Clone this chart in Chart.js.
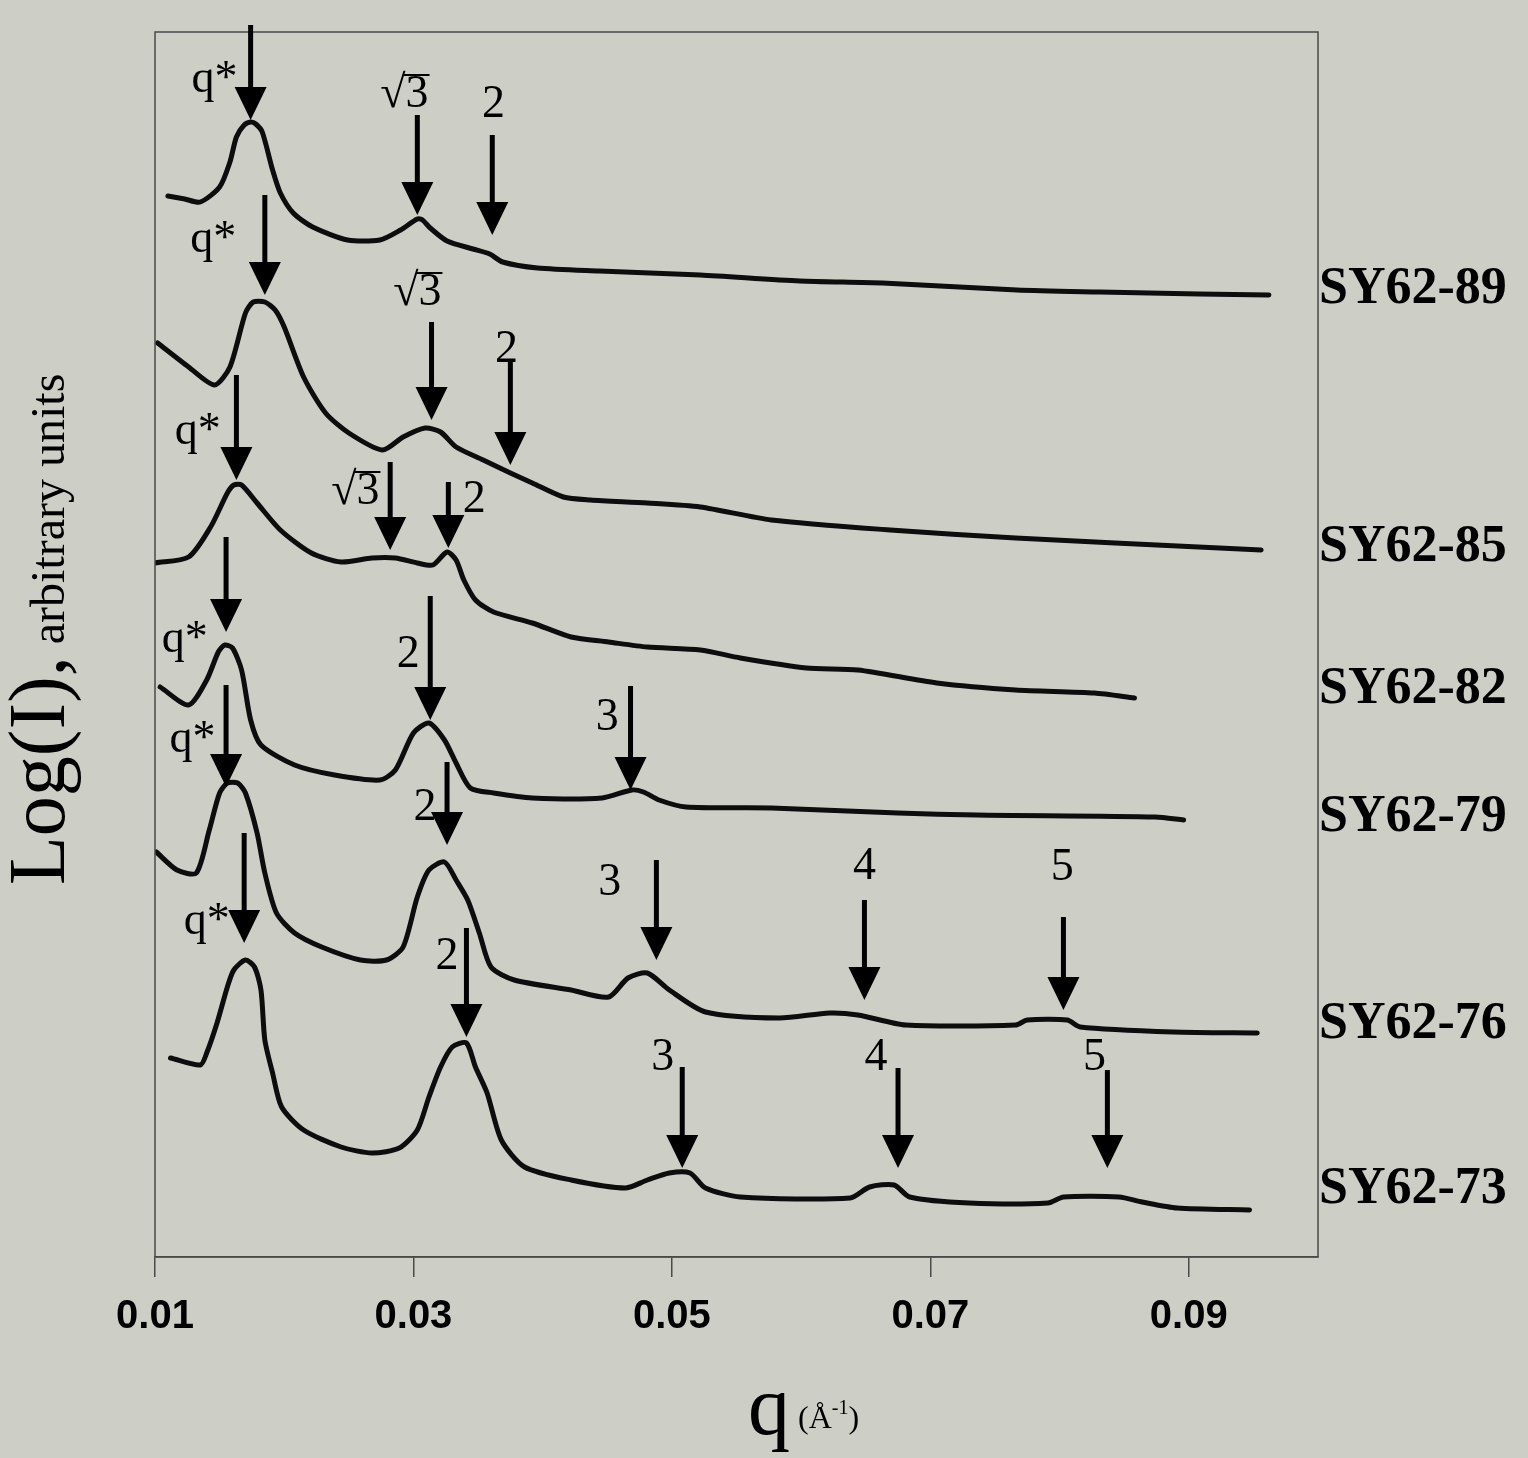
<!DOCTYPE html>
<html>
<head>
<meta charset="utf-8">
<script src="https://cdn.jsdelivr.net/npm/chart.js@4/dist/chart.umd.min.js"></script>
<style>
  html, body { margin: 0; padding: 0; background: #cdcfc7; }
  #wrap { width: 1528px; height: 1458px; }
</style>
</head>
<body>
<div id="wrap"><canvas id="myChart" width="1528" height="1458"></canvas></div>
<script>
// q in 1/Angstrom, intensity in arbitrary (offset) log units
const q89 = [0.0110, 0.0123, 0.0135, 0.0150, 0.0158, 0.0163, 0.0169, 0.0174, 0.0178, 0.0183, 0.0191, 0.0197, 0.0207, 0.0222, 0.0249, 0.0274, 0.0290, 0.0303, 0.0307, 0.0313, 0.0326, 0.0346, 0.0359, 0.0369, 0.0396, 0.0444, 0.0522, 0.0599, 0.0663, 0.0767, 0.0831, 0.0908, 0.0962];
const i89 = [1061, 1058, 1055, 1070, 1095, 1120, 1132, 1135, 1133, 1125, 1087, 1064, 1044, 1030, 1017, 1017, 1027, 1038, 1037, 1029, 1016, 1008, 1003, 995, 989, 986, 982, 976, 974, 967, 965, 963, 962];

const q85 = [0.0102, 0.0126, 0.0146, 0.0158, 0.0170, 0.0176, 0.0185, 0.0193, 0.0200, 0.0215, 0.0232, 0.0250, 0.0276, 0.0292, 0.0309, 0.0321, 0.0333, 0.0354, 0.0375, 0.0392, 0.0416, 0.0437, 0.0481, 0.0522, 0.0577, 0.0669, 0.0766, 0.0843, 0.0956];
const i85 = [914, 890, 872, 890, 944, 955, 955, 947, 930, 880, 844, 824, 807, 820, 829, 825, 810, 797, 784, 774, 760, 757, 754, 750, 737, 727, 719, 714, 707];

const q82 = [0.0100, 0.0126, 0.0143, 0.0156, 0.0161, 0.0167, 0.0179, 0.0197, 0.0221, 0.0244, 0.0268, 0.0286, 0.0303, 0.0315, 0.0326, 0.0333, 0.0339, 0.0348, 0.0362, 0.0392, 0.0422, 0.0451, 0.0481, 0.0522, 0.0553, 0.0604, 0.0644, 0.0705, 0.0766, 0.0827, 0.0858];
const i82 = [694, 700, 730, 764, 772, 772, 754, 727, 704, 695, 699, 699, 694, 692, 705, 697, 677, 657, 645, 634, 620, 615, 610, 607, 599, 589, 587, 574, 567, 564, 559];

const q79 = [0.0104, 0.0126, 0.0140, 0.0149, 0.0154, 0.0160, 0.0167, 0.0174, 0.0182, 0.0208, 0.0239, 0.0274, 0.0286, 0.0300, 0.0312, 0.0324, 0.0333, 0.0344, 0.0362, 0.0392, 0.0446, 0.0469, 0.0478, 0.0490, 0.0511, 0.0577, 0.0675, 0.0736, 0.0874, 0.0896];
const i79 = [570, 552, 577, 605, 612, 609, 587, 537, 512, 492, 482, 477, 487, 524, 534, 517, 494, 469, 464, 459, 459, 467, 465, 457, 450, 449, 444, 442, 440, 437];

const q76 = [0.0101, 0.0117, 0.0132, 0.0142, 0.0150, 0.0156, 0.0164, 0.0170, 0.0179, 0.0185, 0.0194, 0.0208, 0.0229, 0.0259, 0.0279, 0.0292, 0.0303, 0.0312, 0.0324, 0.0333, 0.0342, 0.0351, 0.0360, 0.0378, 0.0422, 0.0451, 0.0466, 0.0481, 0.0498, 0.0526, 0.0583, 0.0622, 0.0644, 0.0681, 0.0766, 0.0775, 0.0806, 0.0816, 0.0888, 0.0953];
const i76 = [405, 387, 384, 427, 464, 474, 474, 464, 424, 384, 344, 324, 310, 297, 297, 310, 360, 387, 395, 377, 357, 324, 290, 277, 267, 260, 279, 284, 267, 245, 239, 244, 242, 232, 232, 237, 237, 230, 225, 224];

const q73 = [0.0112, 0.0135, 0.0140, 0.0148, 0.0156, 0.0161, 0.0170, 0.0177, 0.0182, 0.0185, 0.0191, 0.0198, 0.0215, 0.0244, 0.0268, 0.0289, 0.0303, 0.0312, 0.0321, 0.0330, 0.0341, 0.0348, 0.0357, 0.0368, 0.0386, 0.0422, 0.0464, 0.0481, 0.0498, 0.0514, 0.0526, 0.0553, 0.0638, 0.0653, 0.0672, 0.0684, 0.0730, 0.0791, 0.0803, 0.0846, 0.0864, 0.0891, 0.0947];
const i73 = [199, 192, 204, 234, 270, 287, 297, 290, 267, 217, 184, 150, 127, 110, 104, 109, 127, 160, 190, 210, 214, 190, 164, 117, 90, 77, 69, 77, 84, 84, 69, 60, 59, 70, 72, 60, 54, 54, 60, 60, 55, 49, 47];

const sampleNames = ['SY62-89', 'SY62-85', 'SY62-82', 'SY62-79', 'SY62-76', 'SY62-73'];
const sampleLabelLevel = [967, 709, 567, 439, 232, 67];
const xTicks = [0.01, 0.03, 0.05, 0.07, 0.09];

// peak markers: q position, arrow tip / tail level, label text and label anchor
const arrows = [
  { q: 0.0174, tip: 1137, tail: 1232, text: 'q*', lq: 0.0146, lv: 1177 },
  { q: 0.0303, tip: 1042, tail: 1142, text: 'r3', lq: 0.0293, lv: 1162 },
  { q: 0.0361, tip: 1022, tail: 1122, text: '2', lq: 0.0362, lv: 1152 },

  { q: 0.0185, tip: 962, tail: 1062, text: 'q*', lq: 0.0145, lv: 1017 },
  { q: 0.0314, tip: 837, tail: 935, text: 'r3', lq: 0.0303, lv: 964 },
  { q: 0.0375, tip: 792, tail: 895, text: '2', lq: 0.0372, lv: 907 },

  { q: 0.0163, tip: 777, tail: 882, text: 'q*', lq: 0.0133, lv: 825 },
  { q: 0.0282, tip: 707, tail: 795, text: 'r3', lq: 0.0255, lv: 765 },
  { q: 0.0327, tip: 709, tail: 775, text: '2', lq: 0.0347, lv: 757 },

  { q: 0.0155, tip: 625, tail: 720, text: 'q*', lq: 0.0123, lv: 617 },
  { q: 0.0313, tip: 537, tail: 661, text: '2', lq: 0.0296, lv: 602 },
  { q: 0.0468, tip: 467, tail: 571, text: '3', lq: 0.0450, lv: 539 },

  { q: 0.0155, tip: 470, tail: 572, text: 'q*', lq: 0.0129, lv: 517 },
  { q: 0.0326, tip: 412, tail: 495, text: '2', lq: 0.0309, lv: 449 },
  { q: 0.0488, tip: 297, tail: 397, text: '3', lq: 0.0452, lv: 374 },
  { q: 0.0649, tip: 257, tail: 357, text: '4', lq: 0.0649, lv: 390 },
  { q: 0.0803, tip: 247, tail: 340, text: '5', lq: 0.0802, lv: 389 },

  { q: 0.0169, tip: 314, tail: 424, text: 'q*', lq: 0.0140, lv: 335 },
  { q: 0.0341, tip: 220, tail: 329, text: '2', lq: 0.0326, lv: 300 },
  { q: 0.0508, tip: 89, tail: 190, text: '3', lq: 0.0493, lv: 199 },
  { q: 0.0675, tip: 89, tail: 189, text: '4', lq: 0.0658, lv: 199 },
  { q: 0.0837, tip: 89, tail: 187, text: '5', lq: 0.0827, lv: 199 }
];

const seriesQ = [q89, q85, q82, q79, q76, q73];
const seriesI = [i89, i85, i82, i79, i76, i73];

const datasets = sampleNames.map((name, k) => ({
  label: name,
  data: seriesQ[k].map((q, j) => ({ x: q, y: seriesI[k][j] })),
  borderColor: '#0d0d0d',
  borderWidth: 5,
  pointRadius: 0,
  tension: 0.25,
  borderCapStyle: 'round',
  borderJoinStyle: 'round',
  fill: false
}));

const BG = '#cdcfc7';
const FRAME = '#4a4a4a';
const SERIF = '"Liberation Serif", "Times New Roman", serif';

const decorations = {
  id: 'decorations',
  beforeDraw(chart) {
    const ctx = chart.ctx;
    ctx.save();
    ctx.fillStyle = BG;
    ctx.fillRect(0, 0, chart.width, chart.height);
    ctx.restore();
  },
  afterDraw(chart) {
    const ctx = chart.ctx;
    const xs = chart.scales.x;
    const ys = chart.scales.y;
    const area = chart.chartArea;

    ctx.save();
    // frame
    ctx.strokeStyle = FRAME;
    ctx.lineWidth = 1.5;
    ctx.strokeRect(area.left, area.top, area.right - area.left, area.bottom - area.top);

    // arrows
    ctx.fillStyle = '#000';
    ctx.strokeStyle = '#000';
    arrows.forEach(a => {
      const x = xs.getPixelForValue(a.q);
      const yTip = ys.getPixelForValue(a.tip);
      const yTail = ys.getPixelForValue(a.tail);
      const headH = 33, headW = 16;
      ctx.lineWidth = 5;
      ctx.beginPath();
      ctx.moveTo(x, yTail);
      ctx.lineTo(x, yTip - headH + 2);
      ctx.stroke();
      ctx.beginPath();
      ctx.moveTo(x - headW, yTip - headH);
      ctx.lineTo(x + headW, yTip - headH);
      ctx.lineTo(x, yTip);
      ctx.closePath();
      ctx.fill();

      const lx = xs.getPixelForValue(a.lq);
      const ly = ys.getPixelForValue(a.lv);
      ctx.font = '46px ' + SERIF;
      ctx.textBaseline = 'middle';
      if (a.text === 'r3') {
        const rw = ctx.measureText('\u221A').width;
        const tw = ctx.measureText('3').width;
        const x0 = lx - (rw + tw) / 2;
        ctx.textAlign = 'left';
        ctx.fillText('\u221A', x0, ly);
        ctx.fillText('3', x0 + rw, ly);
        ctx.lineWidth = 2;
        ctx.beginPath();
        ctx.moveTo(x0 + rw - 2, ly - 20);
        ctx.lineTo(x0 + rw + tw + 1, ly - 20);
        ctx.stroke();
      } else {
        ctx.textAlign = 'center';
        ctx.fillText(a.text, lx, ly);
      }
    });

    // sample names at the right
    ctx.font = 'bold 52px ' + SERIF;
    ctx.textAlign = 'left';
    ctx.textBaseline = 'middle';
    sampleNames.forEach((n, k) => {
      ctx.fillText(n, area.right + 1, ys.getPixelForValue(sampleLabelLevel[k]));
    });

    // y title
    ctx.save();
    ctx.translate(64, 885);
    ctx.rotate(-Math.PI / 2);
    ctx.textAlign = 'left';
    ctx.textBaseline = 'alphabetic';
    ctx.font = '80px ' + SERIF;
    const big = 'Log(I),';
    ctx.fillText(big, 0, 0);
    const bw = ctx.measureText(big).width;
    ctx.font = '48px ' + SERIF;
    ctx.fillText(' arbitrary units', bw, 0);
    ctx.restore();

    // x title
    ctx.textAlign = 'left';
    ctx.textBaseline = 'alphabetic';
    const base = 1434;
    let x0 = 748;
    ctx.font = '84px ' + SERIF;
    ctx.fillText('q', x0, base);
    x0 += ctx.measureText('q').width + 8;
    ctx.font = '32px ' + SERIF;
    ctx.fillText('(\u00C5', x0, base - 6);
    x0 += ctx.measureText('(\u00C5').width;
    ctx.font = '20px ' + SERIF;
    ctx.fillText('-1', x0, base - 20);
    x0 += ctx.measureText('-1').width;
    ctx.font = '32px ' + SERIF;
    ctx.fillText(')', x0, base - 6);
    ctx.restore();
  }
};

const ctx = document.getElementById('myChart');
const myChart = new Chart(ctx, {
  type: 'line',
  data: { datasets },
  options: {
    responsive: false,
    animation: false,
    layout: { padding: { left: 155, right: 210, top: 32, bottom: 0 } },
    plugins: { legend: { display: false }, tooltip: { enabled: false } },
    scales: {
      x: {
        type: 'linear',
        min: 0.01,
        max: 0.1,
        afterBuildTicks: (scale) => { scale.ticks = xTicks.map(v => ({ value: v })); },
        afterFit: (scale) => { scale.height = 201; },
        ticks: {
          callback: (v) => Number(v).toFixed(2),
          font: { family: '"Liberation Sans", Arial, sans-serif', size: 40, weight: 'bold' },
          color: '#000',
          padding: 16,
          maxRotation: 0
        },
        grid: { drawOnChartArea: false, drawTicks: true, tickLength: 20, color: FRAME, lineWidth: 1.5 },
        border: { display: true, color: FRAME, width: 1.5 }
      },
      y: {
        display: false,
        min: 0,
        max: 1225
      }
    }
  },
  plugins: [decorations]
});
</script>
</body>
</html>
